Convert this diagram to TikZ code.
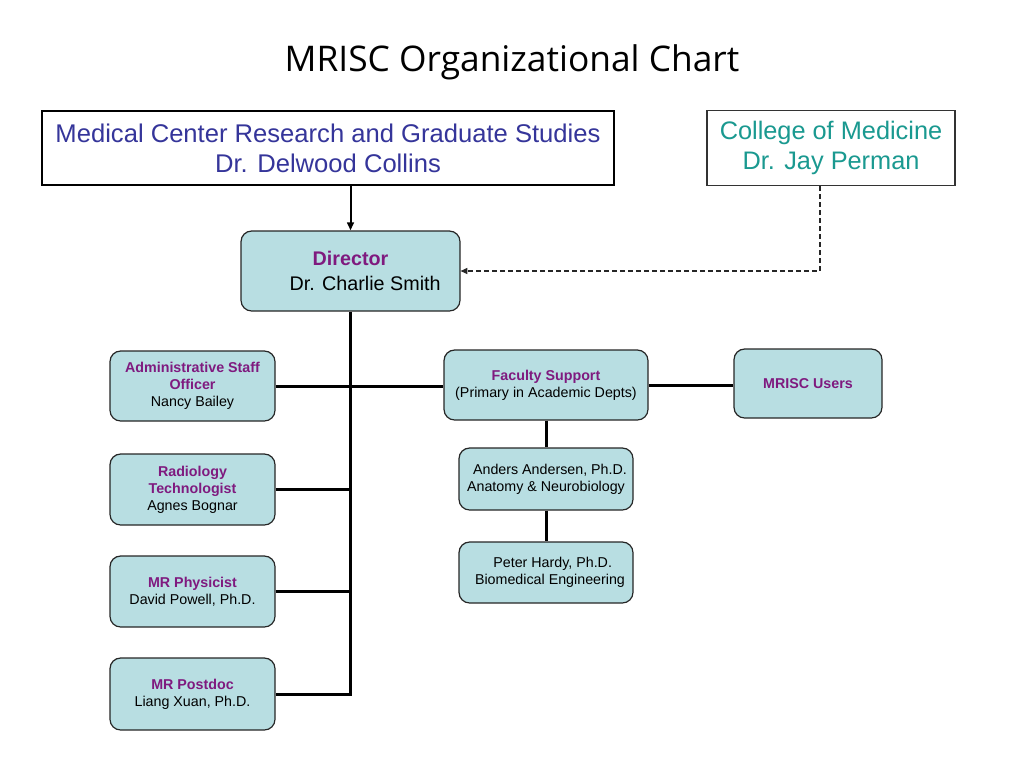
\documentclass[tikz,border=0pt]{standalone}
\usepackage{fontspec}
\setmainfont{Liberation Sans}
\newfontfamily\titlefont{Open Sans}
\usetikzlibrary{arrows.meta}
\definecolor{boxfill}{HTML}{B8DEE2}
\definecolor{ttl}{HTML}{7F1A7F}
\definecolor{mcblue}{HTML}{35359A}
\definecolor{tealtxt}{HTML}{1A9990}
\def\PX{0.75pt}
\begin{document}
\begin{tikzpicture}[x=0.75pt,y=-0.75pt,
  soft/.style={draw=black!85, line width=0.9pt, fill=boxfill, rounded corners=8pt,
    inner sep=0pt, align=center, font=\fontsize{10.7}{12.8}\selectfont},
  plain/.style={draw=black, inner sep=0pt, align=center, fill=white},
  conn/.style={line width=2.25pt, draw=black},
  hd/.style={font=\bfseries, text=ttl}
]
\useasboundingbox (0,0) rectangle (1024,768);

\node[font=\titlefont\fontsize{26.5}{30}\selectfont] (title) at (512,62) {MRISC Organizational Chart};

\node[plain, line width=1.5pt, minimum width=572*\PX, minimum height=74*\PX,
  text=mcblue, font=\fontsize{19.2}{22.5}\selectfont] (mc) at (328,148)
  {Medical Center Research and Graduate Studies\\Dr. Delwood Collins};

\node[plain, draw=black!80, line width=0.8pt, minimum width=248*\PX, minimum height=75*\PX,
  text=tealtxt, font=\fontsize{19}{22.5}\selectfont] (col) at (831,148)
  {College of Medicine\\Dr. Jay Perman};

\node[soft, minimum width=219*\PX, minimum height=80*\PX, font=\fontsize{14.8}{18.75}\selectfont] (dir) at (350.5,271)
  {{\bfseries\color{ttl}Director}\\\hspace*{22pt}Dr. Charlie Smith};

\node[soft, minimum width=165*\PX, minimum height=70*\PX] (adm) at (192.5,386)
  {{\bfseries\color{ttl}Administrative Staff}\\{\bfseries\color{ttl}Officer}\\Nancy Bailey};
\node[soft, minimum width=165*\PX, minimum height=71*\PX] (rad) at (192.5,489.5)
  {{\bfseries\color{ttl}Radiology}\\{\bfseries\color{ttl}Technologist}\\Agnes Bognar};
\node[soft, minimum width=165*\PX, minimum height=71*\PX] (phy) at (192.5,591.5)
  {{\bfseries\color{ttl}MR Physicist}\\David Powell, Ph.D.};
\node[soft, minimum width=165*\PX, minimum height=72*\PX] (pdoc) at (192.5,694)
  {{\bfseries\color{ttl}MR Postdoc}\\Liang Xuan, Ph.D.};

\node[soft, minimum width=204*\PX, minimum height=70*\PX] (fac) at (546,385)
  {{\bfseries\color{ttl}Faculty Support}\\(Primary in Academic Depts)};
\node[soft, minimum width=148*\PX, minimum height=69*\PX] (usr) at (808,383.5)
  {{\bfseries\color{ttl}MRISC Users}};
\node[soft, minimum width=174*\PX, minimum height=62*\PX] (and) at (546,479)
  {\hspace*{6pt}Anders Andersen, Ph.D.\\Anatomy \& Neurobiology};
\node[soft, minimum width=174*\PX, minimum height=61*\PX] (pet) at (546,572.5)
  {\hspace*{10pt}Peter Hardy, Ph.D.\\\hspace*{6pt}Biomedical Engineering};

% connectors
\draw[line width=1.5pt, -{Triangle[length=6pt,width=5pt]}] (dir.north |- mc.south) -- (dir.north);
\draw[dashed, dash pattern=on 3.5pt off 2.5pt, line width=0.8pt, draw=black!85,
  -{Triangle[length=5pt,width=4.5pt]}] ([xshift=-8.25pt]col.south) |- (dir.east);
\draw[conn] (dir.south) -- (dir.south |- pdoc.east) -- (pdoc.east);
\draw[conn] (adm.east) -- (adm.east -| fac.west);
\draw[conn] (rad.east) -- (rad.east -| dir.south);
\draw[conn] (phy.east) -- (phy.east -| dir.south);
\draw[conn] (fac.east) -- (fac.east -| usr.west);
\draw[conn] (fac.south) -- (and.north);
\draw[conn] (and.south) -- (pet.north);
\end{tikzpicture}
\end{document}
